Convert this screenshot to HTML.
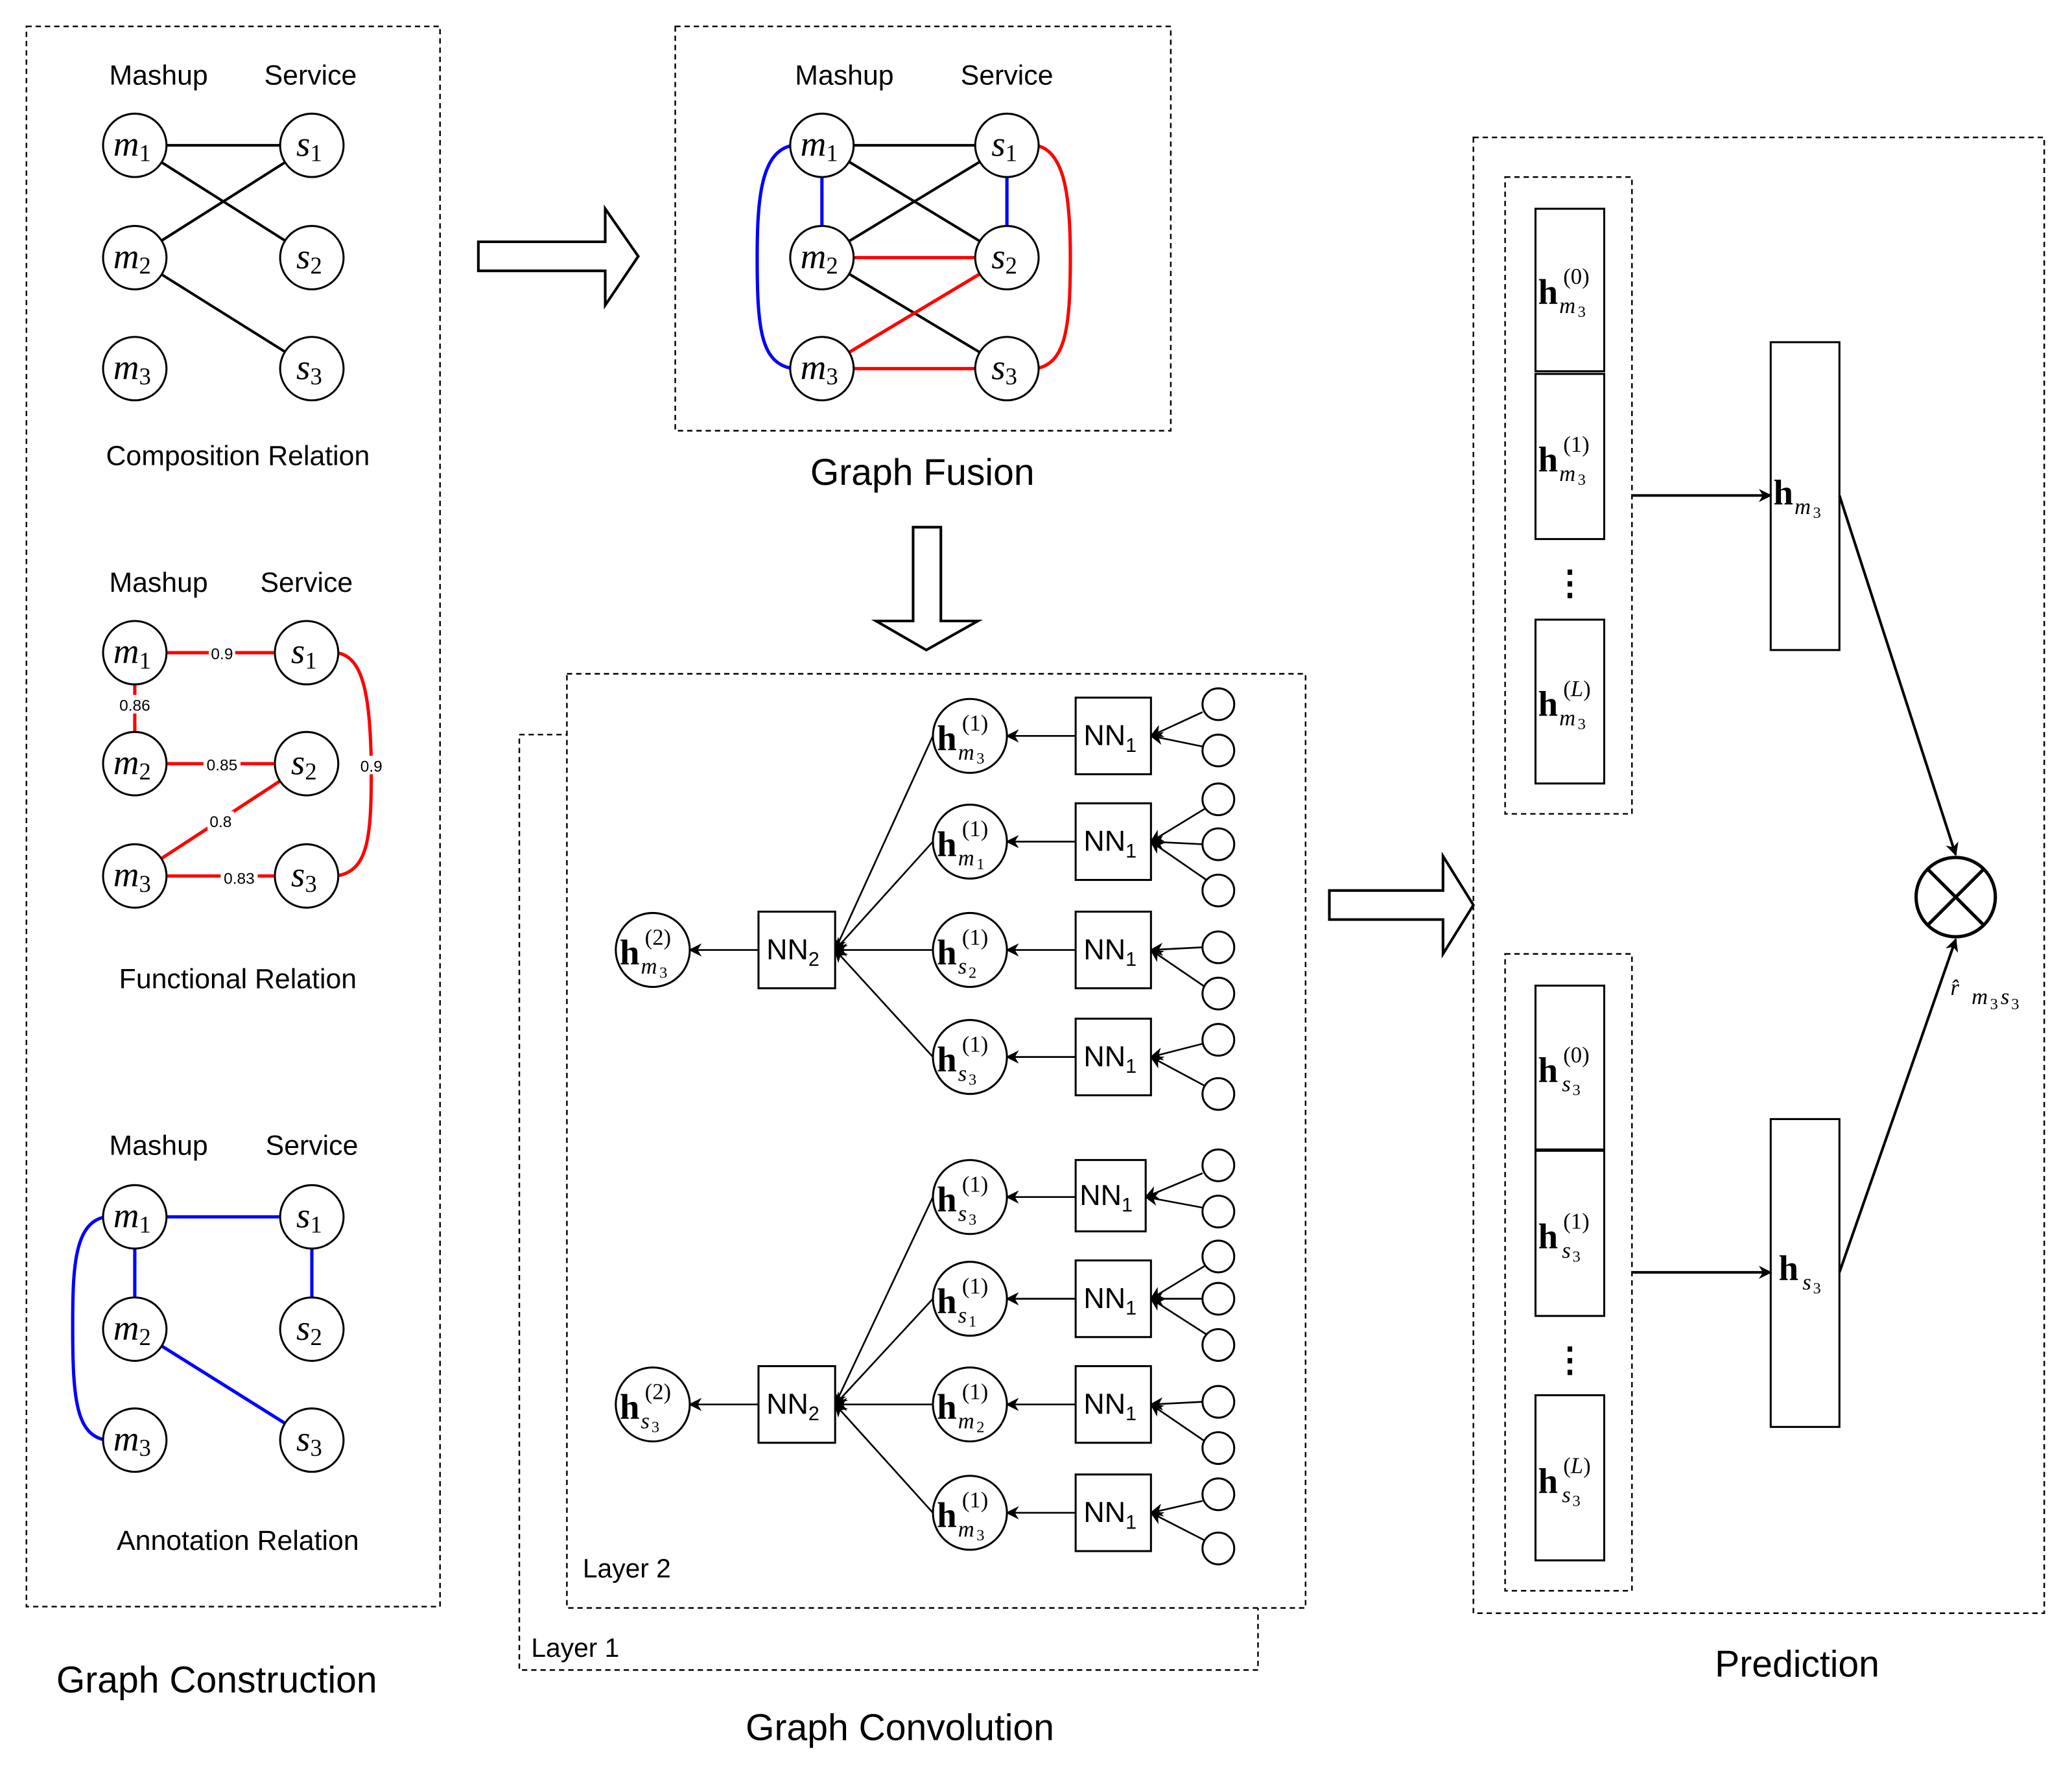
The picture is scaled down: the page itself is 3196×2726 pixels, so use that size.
<!DOCTYPE html>
<html><head><meta charset="utf-8"><style>html,body{margin:0;padding:0;background:#fff}svg{display:block}</style></head>
<body>
<svg width="3196" height="2726" viewBox="0 0 1568 1337.4" preserveAspectRatio="none" xmlns="http://www.w3.org/2000/svg">
<defs>
<marker id="a" viewBox="0 0 10 10" refX="9" refY="5" markerWidth="10" markerHeight="10" markerUnits="userSpaceOnUse" orient="auto"><path d="M0,0 L10,5 L0,10 L3,5 z" fill="#000"/></marker>
</defs>
<style>
.s{font-family:"Liberation Sans",sans-serif;fill:#000}
.m{font-family:"Liberation Serif",serif;font-style:italic;font-size:27px;text-anchor:middle}
.m tspan{font-style:normal;font-size:18px}
.d{fill:none;stroke:#000;stroke-width:1.2;stroke-dasharray:4,3}
.c{fill:#fff;stroke:#000;stroke-width:1.5}
.k{stroke:#000;stroke-width:2;fill:none}
.r{stroke:#f00;stroke-width:2.5;fill:none}
.b{stroke:#00f;stroke-width:2.5;fill:none}
.l{stroke:#000;stroke-width:1.3;fill:none}
.w{font-family:"Liberation Sans",sans-serif;font-size:12px;text-anchor:middle}
.hb{font-family:"Liberation Serif",serif;font-weight:bold;font-size:27px}
.hs{font-family:"Liberation Serif",serif;font-style:italic;font-size:17px}
.hn{font-family:"Liberation Serif",serif;font-size:12px}
.hp{font-family:"Liberation Serif",serif;font-size:17px}
</style>

<!-- Panel 1 -->
<rect class="d" x="20" y="20" width="313" height="1196"/>
<g class="s" font-size="21" text-anchor="middle">
<text x="120" y="64">Mashup</text><text x="235" y="64">Service</text>
<text x="180" y="352">Composition Relation</text>
<text x="120" y="448">Mashup</text><text x="232" y="448">Service</text>
<text x="180" y="748">Functional Relation</text>
<text x="120" y="874">Mashup</text><text x="236" y="874">Service</text>
<text x="180" y="1173">Annotation Relation</text>
<text x="164" y="1281" font-size="28">Graph Construction</text>
<text x="698" y="367" font-size="28">Graph Fusion</text>
<text x="681" y="1317" font-size="28">Graph Convolution</text>
<text x="1360" y="1269" font-size="28">Prediction</text>
</g>
<line class="k" x1="102" y1="110" x2="236" y2="110"/><line class="k" x1="102" y1="110" x2="236" y2="195"/>
<line class="k" x1="102" y1="195" x2="236" y2="110"/><line class="k" x1="102" y1="195" x2="236" y2="279"/>
<g>
<circle class="c" cx="102" cy="110" r="24"/><circle class="c" cx="236" cy="110" r="24"/>
<circle class="c" cx="102" cy="195" r="24"/><circle class="c" cx="236" cy="195" r="24"/>
<circle class="c" cx="102" cy="279" r="24"/><circle class="c" cx="236" cy="279" r="24"/>
</g>
<text class="m" x="100" y="118">m<tspan dy="4">1</tspan></text><text class="m" x="234" y="118">s<tspan dy="4">1</tspan></text>
<text class="m" x="100" y="203">m<tspan dy="4">2</tspan></text><text class="m" x="234" y="203">s<tspan dy="4">2</tspan></text>
<text class="m" x="100" y="287">m<tspan dy="4">3</tspan></text><text class="m" x="234" y="287">s<tspan dy="4">3</tspan></text>

<!-- functional -->
<line class="r" x1="102" y1="494" x2="232" y2="494"/><line class="r" x1="102" y1="494" x2="102" y2="578"/>
<line class="r" x1="102" y1="578" x2="232" y2="578"/><line class="r" x1="232" y1="578" x2="102" y2="663"/>
<line class="r" x1="102" y1="663" x2="232" y2="663"/>
<path class="r" d="M254,494 C276,496 280,530 281,579 C281,630 280,660 254,663"/>
<circle class="c" cx="102" cy="494" r="24"/><circle class="c" cx="232" cy="494" r="24"/>
<circle class="c" cx="102" cy="578" r="24"/><circle class="c" cx="232" cy="578" r="24"/>
<circle class="c" cx="102" cy="663" r="24"/><circle class="c" cx="232" cy="663" r="24"/>
<text class="m" x="100" y="502">m<tspan dy="4">1</tspan></text><text class="m" x="230" y="502">s<tspan dy="4">1</tspan></text>
<text class="m" x="100" y="586">m<tspan dy="4">2</tspan></text><text class="m" x="230" y="586">s<tspan dy="4">2</tspan></text>
<text class="m" x="100" y="671">m<tspan dy="4">3</tspan></text><text class="m" x="230" y="671">s<tspan dy="4">3</tspan></text>
<g>
<rect x="158" y="487" width="20" height="14" fill="#fff"/><text class="w" x="168" y="499">0.9</text>
<rect x="88" y="526" width="28" height="14" fill="#fff"/><text class="w" x="102" y="538">0.86</text>
<rect x="154" y="571" width="28" height="14" fill="#fff"/><text class="w" x="168" y="583">0.85</text>
<rect x="157" y="614" width="20" height="14" fill="#fff"/><text class="w" x="167" y="626">0.8</text>
<rect x="167" y="657" width="28" height="14" fill="#fff"/><text class="w" x="181" y="669">0.83</text>
<rect x="271" y="572" width="20" height="14" fill="#fff"/><text class="w" x="281" y="584">0.9</text>
</g>

<!-- annotation -->
<line class="b" x1="102" y1="921" x2="236" y2="921"/><line class="b" x1="102" y1="921" x2="102" y2="1006"/>
<line class="b" x1="236" y1="921" x2="236" y2="1006"/><line class="b" x1="102" y1="1006" x2="236" y2="1090"/>
<path class="b" d="M80,921 C56,925 55,960 55,1005 C55,1060 58,1086 80,1090"/>
<circle class="c" cx="102" cy="921" r="24"/><circle class="c" cx="236" cy="921" r="24"/>
<circle class="c" cx="102" cy="1006" r="24"/><circle class="c" cx="236" cy="1006" r="24"/>
<circle class="c" cx="102" cy="1090" r="24"/><circle class="c" cx="236" cy="1090" r="24"/>
<text class="m" x="100" y="929">m<tspan dy="4">1</tspan></text><text class="m" x="234" y="929">s<tspan dy="4">1</tspan></text>
<text class="m" x="100" y="1014">m<tspan dy="4">2</tspan></text><text class="m" x="234" y="1014">s<tspan dy="4">2</tspan></text>
<text class="m" x="100" y="1098">m<tspan dy="4">3</tspan></text><text class="m" x="234" y="1098">s<tspan dy="4">3</tspan></text>

<!-- big arrows -->
<path d="M362,183 L458,183 L458,158 L483,194 L458,231 L458,205 L362,205 Z" fill="#fff" stroke="#000" stroke-width="2"/>
<path d="M691,399 L712,399 L712,470 L740,470 L701,492 L663,470 L691,470 Z" fill="#fff" stroke="#000" stroke-width="2"/>
<path d="M1006,674 L1092,674 L1092,648 L1115,685 L1092,722 L1092,696 L1006,696 Z" fill="#fff" stroke="#000" stroke-width="2"/>

<!-- Graph fusion -->
<rect class="d" x="511" y="20" width="375" height="306"/>
<g class="s" font-size="21" text-anchor="middle"><text x="639" y="64">Mashup</text><text x="762" y="64">Service</text></g>
<line class="k" x1="622" y1="110" x2="762" y2="110"/><line class="k" x1="622" y1="110" x2="762" y2="195"/>
<line class="k" x1="622" y1="195" x2="762" y2="110"/><line class="k" x1="622" y1="195" x2="762" y2="279"/>
<line class="b" x1="622" y1="110" x2="622" y2="195"/><line class="b" x1="762" y1="110" x2="762" y2="195"/>
<path class="b" d="M600,110 C576,114 573,150 573,195 C573,250 576,275 600,279"/>
<line class="r" x1="622" y1="195" x2="762" y2="195"/><line class="r" x1="622" y1="279" x2="762" y2="195"/>
<line class="r" x1="622" y1="279" x2="762" y2="279"/>
<path class="r" d="M784,110 C806,114 810,150 810,195 C810,250 806,275 784,279"/>
<circle class="c" cx="622" cy="110" r="24"/><circle class="c" cx="762" cy="110" r="24"/>
<circle class="c" cx="622" cy="195" r="24"/><circle class="c" cx="762" cy="195" r="24"/>
<circle class="c" cx="622" cy="279" r="24"/><circle class="c" cx="762" cy="279" r="24"/>
<text class="m" x="620" y="118">m<tspan dy="4">1</tspan></text><text class="m" x="760" y="118">s<tspan dy="4">1</tspan></text>
<text class="m" x="620" y="203">m<tspan dy="4">2</tspan></text><text class="m" x="760" y="203">s<tspan dy="4">2</tspan></text>
<text class="m" x="620" y="287">m<tspan dy="4">3</tspan></text><text class="m" x="760" y="287">s<tspan dy="4">3</tspan></text>

<!-- Layers -->
<rect class="d" x="393" y="556" width="559" height="708"/>
<rect x="429" y="510" width="559" height="707" fill="#fff"/>
<rect class="d" x="429" y="510" width="559" height="707"/>
<text class="s" x="441" y="1194" font-size="20">Layer 2</text>
<text class="s" x="402" y="1254" font-size="20">Layer 1</text>

<g class="l">
<line x1="910" y1="539" x2="871" y2="557" marker-end="url(#a)"/><line x1="910" y1="565" x2="871" y2="557" marker-end="url(#a)"/>
<line x1="912" y1="612" x2="871" y2="637" marker-end="url(#a)"/><line x1="910" y1="639" x2="871" y2="637" marker-end="url(#a)"/><line x1="913" y1="666" x2="871" y2="637" marker-end="url(#a)"/>
<line x1="910" y1="717" x2="871" y2="719" marker-end="url(#a)"/><line x1="912" y1="747" x2="871" y2="719" marker-end="url(#a)"/>
<line x1="910" y1="790" x2="871" y2="800" marker-end="url(#a)"/><line x1="912" y1="822" x2="871" y2="800" marker-end="url(#a)"/>
<line x1="814" y1="557" x2="762" y2="557" marker-end="url(#a)"/><line x1="814" y1="637" x2="762" y2="637" marker-end="url(#a)"/>
<line x1="814" y1="719" x2="762" y2="719" marker-end="url(#a)"/><line x1="814" y1="800" x2="762" y2="800" marker-end="url(#a)"/>
<line x1="706" y1="557" x2="632" y2="719" marker-end="url(#a)"/><line x1="706" y1="637" x2="632" y2="719" marker-end="url(#a)"/>
<line x1="706" y1="719" x2="632" y2="719" marker-end="url(#a)"/><line x1="706" y1="800" x2="632" y2="719" marker-end="url(#a)"/>
<line x1="574" y1="719" x2="522" y2="719" marker-end="url(#a)"/>
<line x1="910" y1="888" x2="867" y2="906" marker-end="url(#a)"/><line x1="910" y1="914" x2="867" y2="906" marker-end="url(#a)"/>
<line x1="912" y1="958" x2="871" y2="983" marker-end="url(#a)"/><line x1="910" y1="983" x2="871" y2="983" marker-end="url(#a)"/><line x1="913" y1="1010" x2="871" y2="983" marker-end="url(#a)"/>
<line x1="910" y1="1061" x2="871" y2="1063" marker-end="url(#a)"/><line x1="912" y1="1091" x2="871" y2="1063" marker-end="url(#a)"/>
<line x1="910" y1="1136" x2="871" y2="1145" marker-end="url(#a)"/><line x1="912" y1="1166" x2="871" y2="1145" marker-end="url(#a)"/>
<line x1="814" y1="906" x2="762" y2="906" marker-end="url(#a)"/><line x1="814" y1="983" x2="762" y2="983" marker-end="url(#a)"/>
<line x1="814" y1="1063" x2="762" y2="1063" marker-end="url(#a)"/><line x1="814" y1="1145" x2="762" y2="1145" marker-end="url(#a)"/>
<line x1="706" y1="906" x2="632" y2="1063" marker-end="url(#a)"/><line x1="706" y1="983" x2="632" y2="1063" marker-end="url(#a)"/>
<line x1="706" y1="1063" x2="632" y2="1063" marker-end="url(#a)"/><line x1="706" y1="1145" x2="632" y2="1063" marker-end="url(#a)"/>
<line x1="574" y1="1063" x2="522" y2="1063" marker-end="url(#a)"/>
</g>
<g class="c">
<circle cx="922" cy="533" r="12"/><circle cx="922" cy="568" r="12"/>
<circle cx="922" cy="605" r="12"/><circle cx="922" cy="639" r="12"/><circle cx="922" cy="674" r="12"/>
<circle cx="922" cy="717" r="12"/><circle cx="922" cy="752" r="12"/>
<circle cx="922" cy="787" r="12"/><circle cx="922" cy="828" r="12"/>
<circle cx="922" cy="882" r="12"/><circle cx="922" cy="917" r="12"/>
<circle cx="922" cy="951" r="12"/><circle cx="922" cy="983" r="12"/><circle cx="922" cy="1018" r="12"/>
<circle cx="922" cy="1061" r="12"/><circle cx="922" cy="1096" r="12"/>
<circle cx="922" cy="1131" r="12"/><circle cx="922" cy="1172" r="12"/>
<rect x="814" y="528" width="57" height="58"/><rect x="814" y="608" width="57" height="58"/>
<rect x="814" y="690" width="57" height="58"/><rect x="814" y="771" width="57" height="58"/>
<rect x="814" y="878" width="53" height="54"/><rect x="814" y="954" width="57" height="58"/>
<rect x="814" y="1034" width="57" height="58"/><rect x="814" y="1116" width="57" height="58"/>
<rect x="574" y="690" width="58" height="58"/><rect x="574" y="1034" width="58" height="58"/>
<circle cx="734" cy="557" r="28"/><circle cx="734" cy="637" r="28"/><circle cx="734" cy="719" r="28"/><circle cx="734" cy="800" r="28"/>
<circle cx="734" cy="906" r="28"/><circle cx="734" cy="983" r="28"/><circle cx="734" cy="1063" r="28"/><circle cx="734" cy="1145" r="28"/>
<circle cx="494" cy="719" r="28"/><circle cx="494" cy="1063" r="28"/>
</g>
<g class="s" font-size="22">
<text x="820" y="564">NN<tspan font-size="15" dy="5">1</tspan></text>
<text x="820" y="644">NN<tspan font-size="15" dy="5">1</tspan></text>
<text x="820" y="726">NN<tspan font-size="15" dy="5">1</tspan></text>
<text x="820" y="807">NN<tspan font-size="15" dy="5">1</tspan></text>
<text x="817" y="912">NN<tspan font-size="15" dy="5">1</tspan></text>
<text x="820" y="990">NN<tspan font-size="15" dy="5">1</tspan></text>
<text x="820" y="1070">NN<tspan font-size="15" dy="5">1</tspan></text>
<text x="820" y="1152">NN<tspan font-size="15" dy="5">1</tspan></text>
<text x="580" y="726">NN<tspan font-size="15" dy="5">2</tspan></text>
<text x="580" y="1070">NN<tspan font-size="15" dy="5">2</tspan></text>
</g>

<g>
<text class="hb" x="709" y="568">h</text><text class="hs" x="725" y="575">m</text><text class="hn" x="739" y="578">3</text><text class="hp" x="728" y="553">(1)</text>
<text class="hb" x="709" y="648">h</text><text class="hs" x="725" y="655">m</text><text class="hn" x="739" y="658">1</text><text class="hp" x="728" y="633">(1)</text>
<text class="hb" x="709" y="730">h</text><text class="hs" x="725" y="737">s</text><text class="hn" x="733" y="740">2</text><text class="hp" x="728" y="715">(1)</text>
<text class="hb" x="709" y="811">h</text><text class="hs" x="725" y="818">s</text><text class="hn" x="733" y="821">3</text><text class="hp" x="728" y="796">(1)</text>
<text class="hb" x="709" y="917">h</text><text class="hs" x="725" y="924">s</text><text class="hn" x="733" y="927">3</text><text class="hp" x="728" y="902">(1)</text>
<text class="hb" x="709" y="994">h</text><text class="hs" x="725" y="1001">s</text><text class="hn" x="733" y="1004">1</text><text class="hp" x="728" y="979">(1)</text>
<text class="hb" x="709" y="1074">h</text><text class="hs" x="725" y="1081">m</text><text class="hn" x="739" y="1084">2</text><text class="hp" x="728" y="1059">(1)</text>
<text class="hb" x="709" y="1156">h</text><text class="hs" x="725" y="1163">m</text><text class="hn" x="739" y="1166">3</text><text class="hp" x="728" y="1141">(1)</text>
<text class="hb" x="469" y="730">h</text><text class="hs" x="485" y="737">m</text><text class="hn" x="499" y="740">3</text><text class="hp" x="488" y="715">(2)</text>
<text class="hb" x="469" y="1074">h</text><text class="hs" x="485" y="1081">s</text><text class="hn" x="493" y="1084">3</text><text class="hp" x="488" y="1059">(2)</text>
</g>

<!-- Prediction -->
<rect class="d" x="1115" y="104" width="432" height="1117"/>
<rect class="d" x="1139" y="134" width="96" height="482"/>
<rect class="d" x="1139" y="722" width="96" height="482"/>
<g class="c">
<rect x="1162" y="158" width="52" height="123"/><rect x="1162" y="283" width="52" height="125"/><rect x="1162" y="469" width="52" height="124"/>
<rect x="1162" y="746" width="52" height="124"/><rect x="1162" y="871" width="52" height="125"/><rect x="1162" y="1056" width="52" height="125"/>
<rect x="1340" y="259" width="52" height="233"/><rect x="1340" y="847" width="52" height="233"/>
</g>
<text class="s" x="1188" y="450" font-size="26" text-anchor="middle" font-weight="bold">⋮</text>
<text class="s" x="1188" y="1038" font-size="26" text-anchor="middle" font-weight="bold">⋮</text>
<g>
<text class="hb" x="1164" y="230">h</text><text class="hs" x="1180" y="237">m</text><text class="hn" x="1194" y="240">3</text><text class="hp" x="1183" y="215">(0)</text>
<text class="hb" x="1164" y="357">h</text><text class="hs" x="1180" y="364">m</text><text class="hn" x="1194" y="367">3</text><text class="hp" x="1183" y="342">(1)</text>
<text class="hb" x="1164" y="542">h</text><text class="hs" x="1180" y="549">m</text><text class="hn" x="1194" y="552">3</text><text class="hp" x="1183" y="527">(<tspan font-style="italic">L</tspan>)</text>
<text class="hb" x="1164" y="819">h</text><text class="hs" x="1182" y="826">s</text><text class="hn" x="1190" y="829">3</text><text class="hp" x="1183" y="804">(0)</text>
<text class="hb" x="1164" y="945">h</text><text class="hs" x="1182" y="952">s</text><text class="hn" x="1190" y="955">3</text><text class="hp" x="1183" y="930">(1)</text>
<text class="hb" x="1164" y="1130">h</text><text class="hs" x="1182" y="1137">s</text><text class="hn" x="1190" y="1140">3</text><text class="hp" x="1183" y="1115">(<tspan font-style="italic">L</tspan>)</text>
<text class="hb" x="1342" y="382">h</text><text class="hs" x="1358" y="389">m</text><text class="hn" x="1372" y="392">3</text>
<text class="hb" x="1346" y="969">h</text><text class="hs" x="1364" y="976">s</text><text class="hn" x="1372" y="979">3</text>
</g>
<g stroke="#000" stroke-width="2">
<line x1="1235" y1="375" x2="1340" y2="375" marker-end="url(#a)"/>
<line x1="1235" y1="963" x2="1340" y2="963" marker-end="url(#a)"/>
<line x1="1392" y1="375" x2="1480" y2="647" marker-end="url(#a)"/>
<line x1="1392" y1="963" x2="1480" y2="711" marker-end="url(#a)"/>
</g>
<circle cx="1480" cy="679" r="30" fill="#fff" stroke="#000" stroke-width="2.5"/>
<line x1="1459" y1="658" x2="1501" y2="700" stroke="#000" stroke-width="2.5"/>
<line x1="1501" y1="658" x2="1459" y2="700" stroke="#000" stroke-width="2.5"/>
<text class="hs" x="1476" y="753" font-size="24">r̂</text><text class="hs" x="1492" y="760" font-size="17">m</text><text class="hn" x="1506" y="764" font-size="12">3</text><text class="hs" x="1514" y="760" font-size="17">s</text><text class="hn" x="1522" y="764" font-size="12">3</text>
</svg>
</body></html>
